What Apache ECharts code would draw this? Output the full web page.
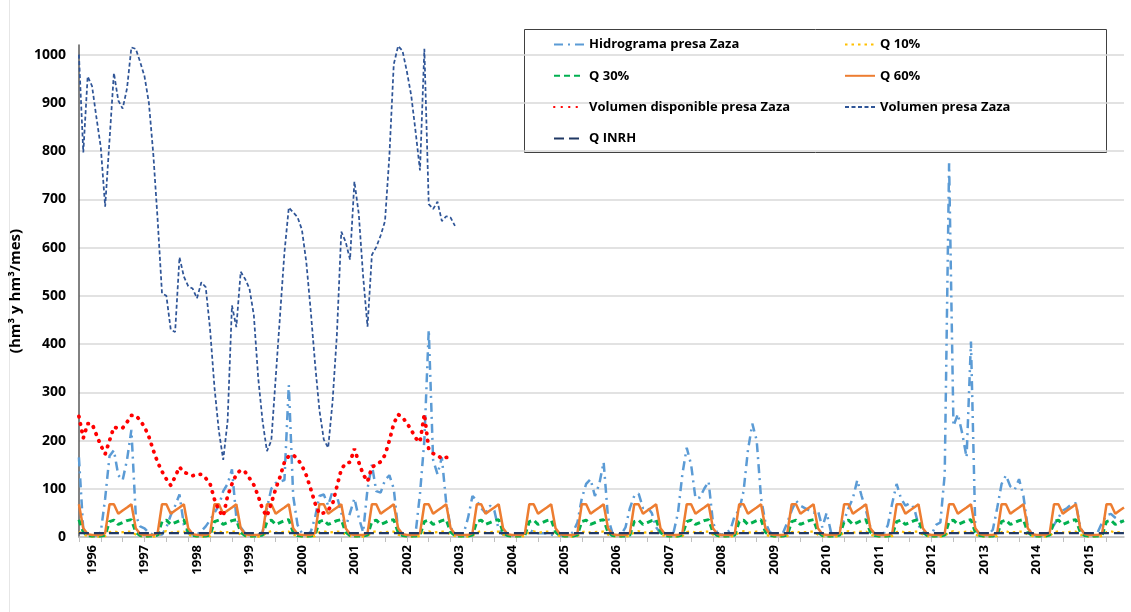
<!DOCTYPE html>
<html>
<head>
<meta charset="utf-8">
<script src="https://cdn.jsdelivr.net/npm/echarts@6.0.0/dist/echarts.min.js"></script>
<style>
  html, body { margin: 0; padding: 0; background: #fff; }
  #chart { width: 1131px; height: 612px; }
</style>
</head>
<body>
<div id="chart"></div>
<script>
// monthly series, October 1995 .. September 2015
const startYear = 1995
const startMonth = 10
const nMonths = 240

const categories = []
for (let i = 0; i < nMonths; i++) {
  const k = startMonth - 1 + i
  categories.push((startYear + Math.floor(k / 12)) + '-' + String(k % 12 + 1).padStart(2, '0'))
}

// hm3/mes, one row per hydrological year (Oct..Sep)
const hidrograma = [
  165, 15, 5, 3, 3, 10, 80, 168, 180, 128, 118, 160,
  222, 45, 22, 18, 8, 5, 5, 5, 20, 45, 65, 88,
  25, 8, 5, 5, 12, 22, 35, 50, 65, 95, 110, 140,
  40, 20, 8, 5, 3, 5, 10, 60, 100, 112, 115, 118,
  315, 85, 25, 8, 5, 10, 40, 85, 88, 65, 95, 85,
  50, 20, 50, 80, 40, 10, 100, 150, 95, 92, 118, 128,
  100, 15, 5, 3, 3, 8, 90, 200, 430, 160, 130, 165,
  70, 20, 5, 5, 8, 40, 85, 75, 60, 50, 65, 55,
  15, 5, 3, 3, 3, 5, 8, 15, 10, 8, 8, 8,
  5, 3, 3, 3, 3, 10, 30, 80, 110, 120, 85, 110,
  155, 40, 8, 5, 5, 20, 60, 85, 90, 60, 62, 50,
  20, 8, 5, 5, 10, 50, 130, 185, 150, 80, 82, 100,
  115, 30, 8, 5, 8, 15, 45, 55, 95, 180, 235, 200,
  80, 30, 10, 5, 4, 8, 30, 55, 75, 65, 60, 55,
  50, 55, 20, 50, 10, 5, 15, 35, 60, 80, 118, 85,
  55, 20, 5, 3, 5, 25, 70, 110, 80, 65, 70, 60,
  25, 8, 5, 5, 25, 30, 130, 775, 230, 255, 215, 165,
  405, 15, 5, 3, 5, 15, 60, 110, 128, 105, 98, 120,
  85, 20, 5, 3, 3, 5, 10, 25, 40, 55, 60, 68,
  70, 20, 5, 3, 3, 10, 30, 45, 48, 40, 35, 28
]

// monthly flow percentiles, Oct..Sep
const q10Monthly = [11, 5, 2, 1, 1, 1, 2, 10, 12, 9, 10, 11]
const q30Monthly = [36, 10, 3, 2, 2, 2, 4, 32, 35, 26, 30, 34]
const q60Monthly = [68, 18, 6, 4, 4, 4, 8, 68, 68, 48, 55, 61]
const qInrh = 8

const volumenDisponible = [
  250, 205, 235, 235, 212, 190, 172, 200, 228, 225, 226, 238,
  252, 252, 242, 228, 208, 180, 155, 136, 120, 107, 125, 145,
  134, 131, 127, 130, 130, 122, 110, 78, 55, 43, 85, 110,
  130, 139, 135, 122, 108, 85, 57, 43, 70, 100, 125, 155,
  168, 170, 162, 148, 128, 100, 70, 48, 50, 56, 68, 105,
  140, 153, 155, 183, 155, 130, 115, 145, 150, 156, 170, 200,
  235, 254, 248, 236, 222, 205, 197, 255, 182, 173, 170, 162,
  165, 165
]

const volumen = [
  1000, 797, 955, 935, 870, 808, 685, 823, 962, 905, 888, 930,
  1015, 1012, 985, 955, 900, 795, 658, 505, 500, 430, 425, 580,
  540, 520, 515, 495, 528, 518, 430, 310, 220, 160, 240, 480,
  435, 550, 535, 515, 460, 330, 240, 178, 200, 330, 460, 590,
  683, 673, 663, 637, 570, 470, 360, 263, 202, 185, 280, 420,
  633, 612, 575, 737, 670, 540, 436, 585, 601, 625, 655, 790,
  980, 1018, 1008, 965, 915, 840, 760, 1012, 690, 680, 695, 655,
  665, 662, 645
]

const q10 = categories.map((c, i) => q10Monthly[i % 12])
const q30 = categories.map((c, i) => q30Monthly[i % 12])
const q60 = categories.map((c, i) => q60Monthly[i % 12])
const qInrhSeries = categories.map(() => qInrh)

const fontFamily = '"Open Sans", "Noto Sans", sans-serif'

const line = (name, data, color, width, type, cap) => ({
  name: name,
  type: 'line',
  data: data,
  symbol: 'none',
  animation: false,
  lineStyle: { color: color, width: width, type: type, cap: cap || 'butt' },
  itemStyle: { color: color }
})

const legendBase = {
  top: 38,
  padding: 0,
  orient: 'vertical',
  itemGap: 18.3,
  itemWidth: 30,
  itemHeight: 13,
  itemStyle: { color: 'rgba(0,0,0,0)', borderColor: 'rgba(0,0,0,0)', borderWidth: 0 },
  textStyle: { fontFamily: fontFamily, fontWeight: 'bold', fontSize: 13, color: '#000' }
}

const option = {
  backgroundColor: '#fff',
  animation: false,
  grid: { left: 75, right: 7, top: 45, bottom: 75 },
  legend: [
    Object.assign({}, legendBase, {
      left: 553,
      data: ['Hidrograma presa Zaza', 'Q 30%', 'Volumen disponible presa Zaza', 'Q INRH']
    }),
    Object.assign({}, legendBase, {
      left: 844,
      data: ['Q 10%', 'Q 60%', 'Volumen presa Zaza']
    })
  ],
  graphic: [{
    type: 'rect',
    shape: { x: 524.5, y: 29.5, width: 582, height: 123 },
    style: { fill: 'none', stroke: '#404040', lineWidth: 1 },
    z: -1
  }, {
    type: 'line',
    shape: { x1: 9.5, y1: 0, x2: 9.5, y2: 612 },
    style: { stroke: '#e6e6e6', lineWidth: 1 }
  }],
  xAxis: {
    type: 'category',
    boundaryGap: false,
    data: categories,
    axisLine: { lineStyle: { color: '#bfbfbf', width: 1.5 } },
    axisTick: {
      interval: (index) => index % 5 === 0,
      length: 5,
      lineStyle: { color: '#bfbfbf' }
    },
    axisLabel: {
      interval: (index) => index % 12 === 3,
      formatter: (value) => value.slice(0, 4),
      rotate: 90,
      margin: 8,
      fontFamily: fontFamily,
      fontWeight: 'bold',
      fontSize: 13,
      color: '#000'
    },
    splitLine: { show: false }
  },
  yAxis: {
    type: 'value',
    min: 0,
    max: 1020,
    interval: 100,
    name: '(hm³ y hm³/mes)',
    nameLocation: 'middle',
    nameGap: 47,
    nameTextStyle: { fontFamily: fontFamily, fontWeight: 'bold', fontSize: 15, color: '#000' },
    axisLine: { show: true, lineStyle: { color: '#595959', width: 1.5 } },
    axisTick: { show: false },
    axisLabel: {
      showMaxLabel: false,
      formatter: (value) => String(value),
      margin: 13,
      fontFamily: fontFamily,
      fontWeight: 'bold',
      fontSize: 14,
      color: '#000'
    },
    splitLine: { showMaxLine: false, lineStyle: { color: '#d9d9d9', width: 1.5 } }
  },
  series: [
    line('Hidrograma presa Zaza', hidrograma, '#5b9bd5', 2.5, [9, 5, 2, 5]),
    line('Q 10%', q10, '#ffc000', 2.25, [2.5, 4]),
    line('Q 30%', q30, '#00b050', 3, [6, 4]),
    line('Q 60%', q60, '#ed7d31', 2.5, 'solid'),
    line('Volumen disponible presa Zaza', volumenDisponible, '#ff0000', 3.75, [0.5, 7], 'round'),
    line('Volumen presa Zaza', volumen, '#2f5597', 1.75, [4, 2.5]),
    line('Q INRH', qInrhSeries, '#203864', 2.25, [10, 5])
  ]
}

const chart = echarts.init(document.getElementById('chart'))
chart.setOption(option)
</script>
</body>
</html>
